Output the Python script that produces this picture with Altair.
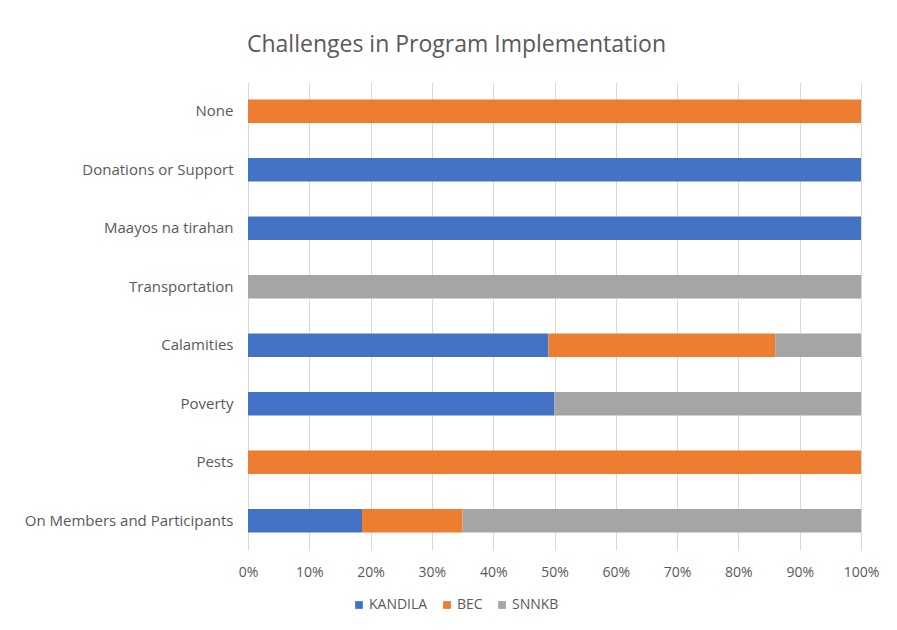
import altair as alt
import pandas as pd

categories = ["None", "Donations or Support", "Maayos na tirahan", "Transportation",
              "Calamities", "Poverty", "Pests", "On Members and Participants"]
series = ["KANDILA", "BEC", "SNNKB"]
kandila = [0, 100, 100, 0, 49, 50, 0, 18.6]
bec = [100, 0, 0, 0, 37, 0, 100, 16.4]
snnkb = [0, 0, 0, 100, 14, 50, 0, 65]
colors = ["#4472C4", "#ED7D31", "#A5A5A5"]

rows = []
for i, c in enumerate(categories):
    for j, (s, vals) in enumerate(zip(series, [kandila, bec, snnkb])):
        rows.append({"category": c, "series": s, "order": j, "value": vals[i]})
df = pd.DataFrame(rows)

FONT = "Open Sans"
TXT = "#595959"

chart = alt.Chart(df).mark_bar().encode(
    y=alt.Y("category:N", sort=categories, title=None,
            scale=alt.Scale(paddingInner=0.6, paddingOuter=0.3),
            axis=alt.Axis(ticks=False, domain=False, labelPadding=15,
                          labelFontSize=15, labelColor=TXT, labelFont=FONT,
                          labelLimit=300)),
    x=alt.X("value:Q", stack="normalize", title=None,
            scale=alt.Scale(domain=[0, 1], nice=False),
            axis=alt.Axis(values=[i / 10 for i in range(11)], format=".0%",
                          ticks=False, domain=False, labelPadding=15, labelFlush=False,
                          labelFontSize=14, labelColor=TXT, labelFont=FONT,
                          gridColor="#D9D9D9", gridWidth=1)),
    color=alt.Color("series:N", sort=series,
                    scale=alt.Scale(domain=series, range=colors),
                    legend=alt.Legend(title=None, orient="none", direction="horizontal",
                                      legendX=104, legendY=516, symbolType="square",
                                      symbolSize=60, labelFontSize=14, labelColor=TXT,
                                      labelFont=FONT, columnPadding=12, labelOffset=3,
                                      symbolStrokeWidth=0)),
    order=alt.Order("order:Q"),
).properties(
    width=613, height=468,
    title=alt.TitleParams("Challenges in Program Implementation", fontSize=23,
                          font=FONT, fontWeight="normal", color=TXT, dx=-98, offset=25),
    autosize=alt.AutoSizeParams(type="none"),
    padding={"left": 240, "top": 74, "right": 28, "bottom": 72},
).configure_view(stroke=None)

chart.save("out.html", embed_options={"renderer": "svg", "actions": False})
